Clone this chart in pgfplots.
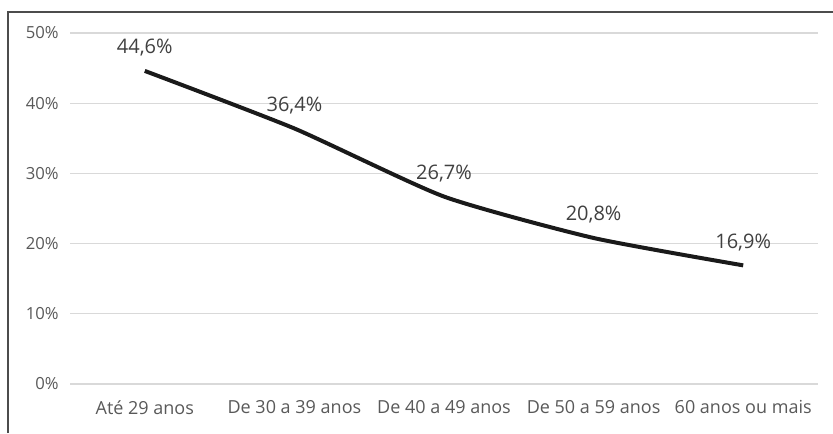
\documentclass[border=0pt]{standalone}
\usepackage{pgfplots}
\pgfplotsset{compat=1.18}
\usepackage{fontspec}
\setmainfont{Open Sans}
\definecolor{gridc}{HTML}{D9D9D9}
\definecolor{tickc}{HTML}{595959}
\definecolor{labc}{HTML}{404040}
\definecolor{linec}{HTML}{1A1A1A}
\begin{document}
\begin{tikzpicture}
% page size 833x433 px, 1px = 0.75pt
\path[use as bounding box] (0pt,0pt) rectangle (624.75pt,324.75pt);
% frame lines visible at top and left
\draw[color=black!70, line width=1pt] (6pt,0pt) -- (6pt,315.75pt) -- (624.75pt,315.75pt);
\begin{axis}[
    at={(108.6pt,36.75pt)}, anchor=origin,
    scale only axis,
    width=561pt, height=263.25pt,
    xmin=-0.5, xmax=4.5,
    ymin=0, ymax=50,
    xtick={0,1,2,3,4},
    xticklabels={Até 29 anos, De 30 a 39 anos, De 40 a 49 anos, De 50 a 59 anos, 60 anos ou mais},
    ytick={0,10,20,30,40,50},
    yticklabel={\pgfmathprintnumber{\tick}\%},
    /pgf/number format/assume math mode=true,
    ymajorgrids, grid style={gridc, line width=0.8pt},
    axis line style={draw=none},
    major tick length=0pt,
    tick label style={color=tickc},
    yticklabel style={font=\fontsize{12.5}{14}\selectfont, anchor=east, xshift=-5pt},
    xticklabel style={font=\fontsize{13.5}{16}\selectfont, anchor=north, yshift=-9pt},
    clip=false,
]
\addplot[color=linec, line width=3pt, smooth, tension=0.35,
    nodes near coords={\pgfmathprintnumber[use comma,fixed,precision=1,fixed zerofill]{\pgfplotspointmeta}\%},
    nodes near coords style={font=\fontsize{15}{18}\selectfont, color=labc, anchor=base, yshift=13pt},
    /pgf/number format/assume math mode=true,
    point meta=explicit]
coordinates {
(0,44.6) [44.6]
(1,36.4) [36.4]
(2,26.7) [26.7]
(3,20.8) [20.8]
(4,16.9) [16.9]
};
\end{axis}
\end{tikzpicture}
\end{document}
